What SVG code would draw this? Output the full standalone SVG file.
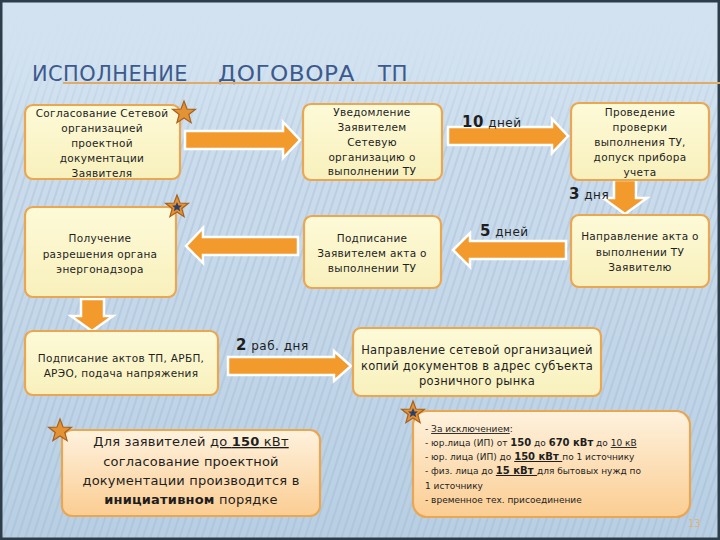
<svg xmlns="http://www.w3.org/2000/svg" width="720" height="540" viewBox="0 0 720 540">
<defs>
<linearGradient id="bg" x1="0" y1="0" x2="0" y2="1">
<stop offset="0" stop-color="#d2e2f0"/>
<stop offset="0.5" stop-color="#c6d9ea"/>
<stop offset="1" stop-color="#b8cfe3"/>
</linearGradient>
<pattern id="stripes" width="7" height="540" patternUnits="userSpaceOnUse" patternTransform="rotate(18)">
<rect x="0" y="0" width="2" height="540" fill="#8fa9c2" opacity="0.25"/>
</pattern>
<linearGradient id="topFade" x1="0" y1="0" x2="0" y2="1">
<stop offset="0" stop-color="#d2e2f0" stop-opacity="1"/>
<stop offset="0.35" stop-color="#d2e2f0" stop-opacity="0.9"/>
<stop offset="1" stop-color="#d2e2f0" stop-opacity="0"/>
</linearGradient>
<linearGradient id="boxFill" x1="0" y1="0" x2="0" y2="1">
<stop offset="0" stop-color="#fdfad8"/>
<stop offset="1" stop-color="#f8f0bc"/>
</linearGradient>
<linearGradient id="peachFill" x1="0" y1="0" x2="0" y2="1">
<stop offset="0" stop-color="#fef2de"/>
<stop offset="1" stop-color="#fbcd92"/>
</linearGradient>
<g id="star">
<polygon points="0,-12 3,-4 11.5,-3.7 4.8,1.5 7.1,9.7 0,5 -7.1,9.7 -4.8,1.5 -11.5,-3.7 -3,-4" fill="#e39234" stroke="#a8601e" stroke-width="1.2"/>
</g>
</defs>
<style>
.box{fill:url(#boxFill);stroke:#eaa650;stroke-width:2.2}
.peach{fill:url(#peachFill);stroke:#eaa650;stroke-width:2.2}
.arrow{fill:#f39a2c;stroke:#ffffff;stroke-width:2.5;stroke-linejoin:miter}
.t{font-family:"DejaVu Sans","Liberation Sans",sans-serif;font-size:10.5px;fill:#1e1e1e;text-anchor:middle;letter-spacing:0.3px}
.lbl{font-family:"DejaVu Sans","Liberation Sans",sans-serif;font-size:12px;fill:#1e1e1e;letter-spacing:0.5px}
.b{font-weight:bold;font-size:15px}
.big{font-family:"DejaVu Sans","Liberation Sans",sans-serif;font-size:13px;fill:#1e1e1e;text-anchor:middle;letter-spacing:0.2px}
.sm{font-family:"DejaVu Sans","Liberation Sans",sans-serif;font-size:9px;fill:#1e1e1e;letter-spacing:0px}
.title{font-family:"DejaVu Sans","Liberation Sans",sans-serif;font-size:22px;fill:#3d5a8c;letter-spacing:0.5px}
</style>

<!-- background -->
<rect width="720" height="540" fill="url(#bg)"/>
<rect width="720" height="540" fill="url(#stripes)"/>
<rect width="720" height="140" fill="url(#topFade)"/>
<rect x="1" y="1" width="718" height="538" fill="none" stroke="#2e3d4a" stroke-width="3"/>

<!-- title -->
<text class="title" y="81"><tspan x="32" textLength="156" lengthAdjust="spacingAndGlyphs">ИСПОЛНЕНИЕ</tspan><tspan x="218" textLength="137" lengthAdjust="spacingAndGlyphs">ДОГОВОРА</tspan><tspan x="378" textLength="30" lengthAdjust="spacingAndGlyphs">ТП</tspan></text>
<line x1="63" y1="83" x2="720" y2="83" stroke="#e0aa68" stroke-width="2"/>

<!-- connectors -->
<g id="connectors">
<polygon class="arrow" points="185,131 283,131 283,122 300,140 283,158 283,149 185,149"/>
<polygon class="arrow" points="448,127 552,127 552,119 568,136 552,153 552,145 448,145"/>
<polygon class="arrow" points="614,180 636,180 636,198 647,198 625,214 603,198 614,198"/>
<polygon class="arrow" points="566,241 470,241 470,233 453,250 470,267 470,259 566,259"/>
<polygon class="arrow" points="298,237 203,237 203,228 186,246 203,263 203,255 298,255"/>
<polygon class="arrow" points="81,299 104,299 104,316 113,316 92,331 71,316 81,316"/>
<polygon class="arrow" points="228,357 334,357 334,351 351,366 334,381 334,375 228,375"/>
<text class="lbl" x="462" y="127"><tspan class="b">10</tspan> дней</text>
<text class="lbl" x="569" y="199"><tspan class="b">3</tspan> дня</text>
<text class="lbl" x="480" y="236"><tspan class="b">5</tspan> дней</text>
<text class="lbl" x="236" y="350"><tspan class="b">2</tspan> раб. дня</text>
</g>

<!-- nodes -->
<g id="n1">
<rect class="box" x="25" y="105" width="155" height="74" rx="8"/>
<text class="t" x="102" y="117">Согласование Сетевой</text>
<text class="t" x="102" y="132">организацией</text>
<text class="t" x="102" y="147">проектной</text>
<text class="t" x="102" y="162">документации</text>
<text class="t" x="102" y="177">Заявителя</text>
<use href="#star" x="184" y="113"/>
</g>
<g id="n2">
<rect class="box" x="303" y="104" width="139" height="76" rx="8"/>
<text class="t" x="372" y="116">Уведомление</text>
<text class="t" x="372" y="131">Заявителем</text>
<text class="t" x="372" y="146">Сетевую</text>
<text class="t" x="372" y="161">организацию о</text>
<text class="t" x="372" y="175">выполнении ТУ</text>
</g>
<g id="n3">
<rect class="box" x="571" y="103" width="138" height="77" rx="8"/>
<text class="t" x="640" y="116">Проведение</text>
<text class="t" x="640" y="131">проверки</text>
<text class="t" x="640" y="146">выполнения ТУ,</text>
<text class="t" x="640" y="161">допуск прибора</text>
<text class="t" x="640" y="176">учета</text>
</g>
<g id="n4">
<rect class="box" x="571" y="215" width="138" height="72" rx="8"/>
<text class="t" x="640" y="240">Направление акта о</text>
<text class="t" x="640" y="256">выполнении ТУ</text>
<text class="t" x="640" y="271">Заявителю</text>
</g>
<g id="n5">
<rect class="box" x="304" y="216" width="137" height="72" rx="8"/>
<text class="t" x="372" y="242">Подписание</text>
<text class="t" x="372" y="257">Заявителем акта о</text>
<text class="t" x="372" y="272">выполнении ТУ</text>
</g>
<g id="n6">
<rect class="box" x="25" y="207" width="151" height="90" rx="8"/>
<text class="t" x="100" y="242">Получение</text>
<text class="t" x="100" y="258">разрешения органа</text>
<text class="t" x="100" y="273">энергонадзора</text>
<use href="#star" x="177" y="207"/>
<polygon points="177,202 178.5,205.5 182,205.6 179.3,207.8 180.2,211.2 177,209.2 173.8,211.2 174.7,207.8 172,205.6 175.5,205.5" fill="#2e3f6a"/>
</g>
<g id="n7">
<rect class="box" x="25" y="331" width="193" height="64" rx="8"/>
<text class="t" x="121" y="362">Подписание актов ТП, АРБП,</text>
<text class="t" x="121" y="377">АРЭО, подача напряжения</text>
</g>
<g id="n8">
<rect class="box" x="353" y="328" width="248" height="68" rx="8"/>
<text class="t" x="477" y="354" style="font-size:11.5px">Направление сетевой организацией</text>
<text class="t" x="477" y="370" style="font-size:11.5px">копий документов в адрес субъекта</text>
<text class="t" x="477" y="385" style="font-size:11.5px">розничного рынка</text>
</g>
<g id="n9">
<rect class="peach" x="62" y="430" width="258" height="86" rx="10"/>
<text class="big" x="191" y="446">Для заявителей <tspan text-decoration="underline">до <tspan font-weight="bold">150</tspan> кВт</tspan></text>
<text class="big" x="191" y="466">согласование проектной</text>
<text class="big" x="191" y="485">документации производится в</text>
<text class="big" x="191" y="504"><tspan font-weight="bold">инициативном</tspan> порядке</text>
<use href="#star" x="60" y="431"/>
</g>
<g id="n10">
<rect class="peach" x="413" y="411" width="277" height="106" rx="14"/>
<text class="sm" x="425" y="432">- <tspan text-decoration="underline">За исключением</tspan>:</text>
<text class="sm" x="425" y="446">- юр.лица (ИП) от <tspan font-weight="bold" font-size="10">150</tspan> до <tspan font-weight="bold" font-size="10">670 кВт</tspan> до <tspan text-decoration="underline">10 кВ</tspan></text>
<text class="sm" x="425" y="460">- юр. лица (ИП) до <tspan font-weight="bold" font-size="10" text-decoration="underline">150 кВт </tspan>по 1 источнику</text>
<text class="sm" x="425" y="474">- физ. лица до <tspan font-weight="bold" font-size="10" text-decoration="underline">15 кВт </tspan>для бытовых нужд по</text>
<text class="sm" x="425" y="489">1 источнику</text>
<text class="sm" x="425" y="503">- временное тех. присоединение</text>
<use href="#star" x="413" y="413"/>
<polygon points="413,408 414.5,411.5 418,411.6 415.3,413.8 416.2,417.2 413,415.2 409.8,417.2 410.7,413.8 408,411.6 411.5,411.5" fill="#2e3f6a"/>
</g>
<text x="688" y="527" font-family="DejaVu Sans, Liberation Sans, sans-serif" font-size="10" fill="#e0b27a">13</text>
</svg>
